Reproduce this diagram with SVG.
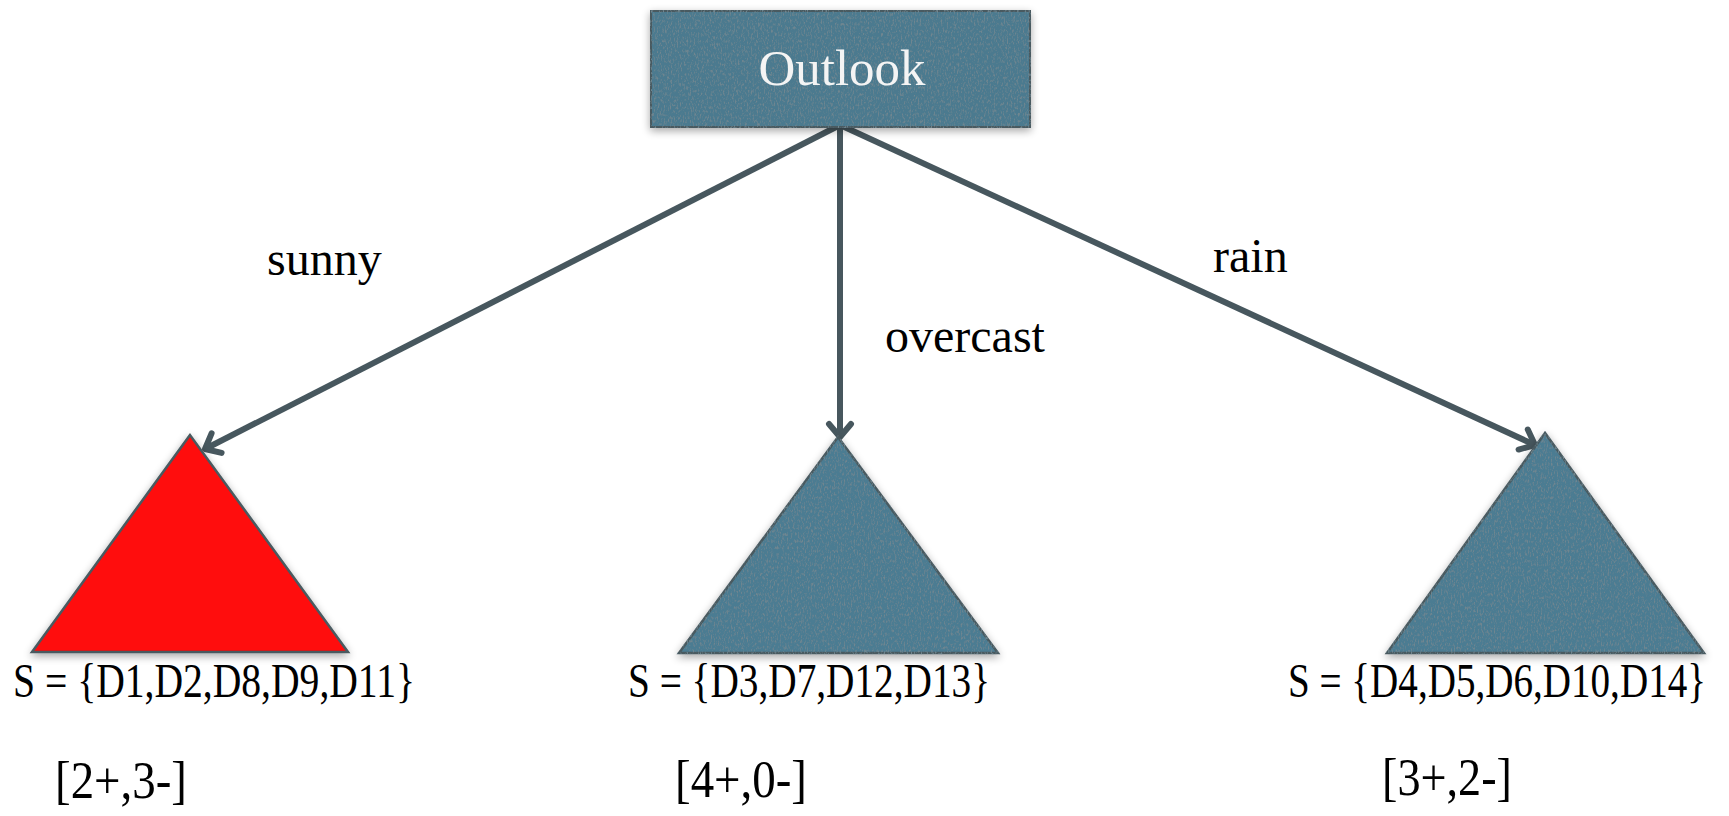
<svg xmlns="http://www.w3.org/2000/svg" width="1729" height="816" viewBox="0 0 1729 816">
<style>
.lbl{font-family:"Liberation Serif","Times New Roman",serif;font-size:48px;fill:#000}
.cnt{font-family:"Liberation Serif","Times New Roman",serif;font-size:52px;fill:#000}
.set{font-family:"Liberation Serif","Times New Roman",serif;font-size:48px;fill:#000}
.node-text{font-family:"Liberation Serif","Times New Roman",serif;font-size:50px;fill:#f4f4f4}
.edge{stroke:#47575e;stroke-width:6;fill:none;marker-end:url(#chev)}
.tri{stroke:#4a5a60;stroke-width:2.5;stroke-linejoin:miter}
</style>
<defs>
<marker id="chev" markerUnits="userSpaceOnUse" viewBox="-20 -15 24 30" refX="0" refY="0" markerWidth="24" markerHeight="30" orient="auto" overflow="visible">
<path d="M -13 -11 L 0 0 L -13 11" fill="none" stroke="#47575e" stroke-width="6" stroke-linecap="round" stroke-linejoin="round"/>
</marker>
<filter id="tex" x="-5%" y="-5%" width="110%" height="110%">
<feTurbulence type="fractalNoise" baseFrequency="0.7 0.3" numOctaves="3" seed="4" result="n"/>
<feColorMatrix in="n" type="matrix" values="0 0 0 0 0.16  0 0 0 0 0.24  0 0 0 0 0.28  3.5 0 0 0 -1.75" result="spots"/>
<feComposite in="spots" in2="SourceGraphic" operator="in" result="sp"/>
<feMerge><feMergeNode in="SourceGraphic"/><feMergeNode in="sp"/></feMerge>
</filter>
<filter id="sh" x="-10%" y="-10%" width="120%" height="125%">
<feGaussianBlur in="SourceAlpha" stdDeviation="4"/>
<feOffset dy="3" result="b"/>
<feComponentTransfer><feFuncA type="linear" slope="0.35"/></feComponentTransfer>
<feMerge><feMergeNode/><feMergeNode in="SourceGraphic"/></feMerge>
</filter>
</defs>
<rect width="1729" height="816" fill="#ffffff"/>
<g id="connectors">
<path class="edge" d="M 840 125 L 205 449"/>
<path class="edge" d="M 840 125 L 840 437"/>
<path class="edge" d="M 840 125 L 1535 445"/>
</g>
<g id="outlook">
<g filter="url(#sh)"><rect x="651" y="11" width="379" height="116" fill="#4c7a8f" stroke="#4a5a60" stroke-width="2" filter="url(#tex)"/></g>
<text class="node-text" x="842" y="85" text-anchor="middle" textLength="167" lengthAdjust="spacingAndGlyphs">Outlook</text>
</g>
<g id="sunny-subtree">
<polygon class="tri" points="190,435 32,652 348,652" fill="#ff0a0a" filter="url(#sh)"/>
<text class="set" x="13" y="697" textLength="402" lengthAdjust="spacingAndGlyphs">S = {D1,D2,D8,D9,D11}</text>
<text class="cnt" x="55" y="798" textLength="132" lengthAdjust="spacingAndGlyphs">[2+,3-]</text>
</g>
<g id="overcast-subtree">
<g filter="url(#sh)"><polygon class="tri" points="838,437 679,653 998,653" fill="#4c7c92" filter="url(#tex)"/></g>
<text class="set" x="628" y="697" textLength="362" lengthAdjust="spacingAndGlyphs">S = {D3,D7,D12,D13}</text>
<text class="cnt" x="675" y="797" textLength="132" lengthAdjust="spacingAndGlyphs">[4+,0-]</text>
</g>
<g id="rain-subtree">
<g filter="url(#sh)"><polygon class="tri" points="1545,433 1387,653 1704,653" fill="#4c7c92" filter="url(#tex)"/></g>
<text class="set" x="1288" y="697" textLength="418" lengthAdjust="spacingAndGlyphs">S = {D4,D5,D6,D10,D14}</text>
<text class="cnt" x="1382" y="795" textLength="130" lengthAdjust="spacingAndGlyphs">[3+,2-]</text>
</g>
<g id="edge-labels">
<text class="lbl" x="267" y="275">sunny</text>
<text class="lbl" x="885" y="352">overcast</text>
<text class="lbl" x="1213" y="272">rain</text>
</g>
</svg>
